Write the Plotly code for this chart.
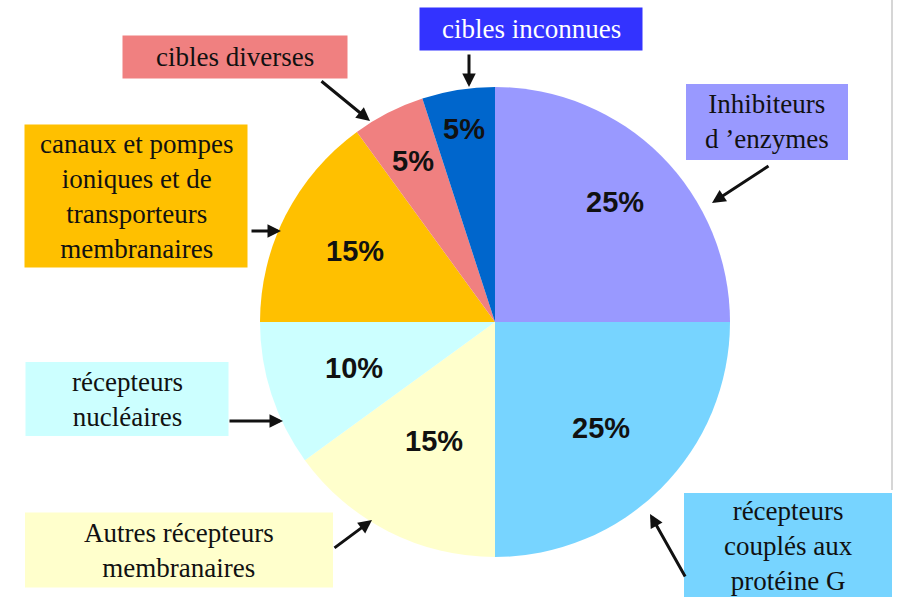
import math
import plotly.graph_objects as go

categories = ["Inhibiteurs d'enzymes", "récepteurs couplés aux protéine G",
              "Autres récepteurs membranaires", "récepteurs nucléaires",
              "canaux et pompes ioniques et de transporteurs membranaires",
              "cibles diverses", "cibles inconnues"]
values = [25, 25, 15, 10, 15, 5, 5]
slice_colors = ["#9999FF", "#77D4FF", "#FFFFCC", "#CCFFFF", "#FFC000", "#F08080", "#0066CC"]

box_texts = ["Inhibiteurs<br>d ’enzymes", "récepteurs<br>couplés aux<br>protéine G",
             "Autres récepteurs<br>membranaires", "récepteurs<br>nucléaires",
             "canaux et pompes<br>ioniques et de<br>transporteurs<br>membranaires",
             "cibles diverses", "cibles inconnues"]
box_colors = ["#9999FF", "#77D4FF", "#FFFFCC", "#CCFFFF", "#FFC000", "#F08080", "#3333FF"]
box_font_colors = ["#111111"] * 6 + ["#FFFFFF"]

# radial placement of percentage labels (fraction of radius), per slice
label_radius = [0.72, 0.64, 0.57, 0.63, 0.67, 0.77, 0.83]

W, H = 902, 597
cx, cy, r = 495, 322, 235

fig = go.Figure(go.Pie(
    values=values, labels=categories, sort=False, direction="clockwise", rotation=0,
    marker=dict(colors=slice_colors, line=dict(width=0)),
    textinfo="none",
    domain=dict(x=[(cx - r) / W, (cx + r) / W], y=[(H - cy - r) / H, (H - cy + r) / H]),
    hoverinfo="skip", showlegend=False,
))

ann = []
shapes = []

# percentage labels at each slice's mid-angle
total = sum(values)
cum = 0
for v, fr in zip(values, label_radius):
    mid = (cum + v / 2) / total * 2 * math.pi
    cum += v
    px = cx + fr * r * math.sin(mid)
    py = cy - fr * r * math.cos(mid)
    ann.append(dict(text=f"{round(100 * v / total)}%", x=px / W, y=1 - py / H,
                    xref="paper", yref="paper", showarrow=False,
                    xanchor="center", yanchor="middle",
                    font=dict(family="Liberation Sans", size=29, color="#111111", weight="bold")))

# box centers (pixels) and sizes
box_pos = [(767, 122, 162, 76), (788, 546, 208, 106), (179, 550, 308, 75), (127, 399, 203, 74),
           (136, 196, 223, 143), (235, 57, 225, 43), (531, 29, 223, 43)]
for t, c, fc, (x, y, w, h) in zip(box_texts, box_colors, box_font_colors, box_pos):
    shapes.append(dict(type="rect", xref="paper", yref="paper",
                       x0=(x - w / 2) / W, x1=(x + w / 2) / W,
                       y0=1 - (y + h / 2) / H, y1=1 - (y - h / 2) / H,
                       fillcolor=c, line=dict(width=0), layer="below"))
    ann.append(dict(text=t, x=x / W, y=1 - y / H, xref="paper", yref="paper",
                    showarrow=False, xanchor="center", yanchor="middle",
                    font=dict(family="Liberation Serif", size=27, color=fc)))

# arrows: (tail, tip) in pixels
arrows = [((770, 165), (712, 203)), ((686, 578), (650, 514)), ((333, 549), (372, 520)),
          ((228, 421), (283, 421)), ((250, 231), (281, 231)), ((320, 80), (370, 121)),
          ((469, 53), (469, 87))]
for (tx, ty), (hx, hy) in arrows:
    ann.append(dict(text="", x=hx / W, y=1 - hy / H, xref="paper", yref="paper",
                    ax=tx - hx, ay=ty - hy, axref="pixel", ayref="pixel",
                    showarrow=True, arrowhead=2, arrowsize=0.9, arrowwidth=3,
                    arrowcolor="#111111"))

shapes.append(dict(type="line", xref="paper", yref="paper", x0=892 / W, x1=892 / W,
                   y0=1 - 490 / H, y1=1, line=dict(color="#C8C8C8", width=1.5)))

fig.update_layout(width=W, height=H, margin=dict(l=0, r=0, t=0, b=0),
                  paper_bgcolor="white", plot_bgcolor="white",
                  annotations=ann, shapes=shapes)
fig.write_html("out.html", config={"displayModeBar": False},
               post_script="document.body.style.margin='0';")
